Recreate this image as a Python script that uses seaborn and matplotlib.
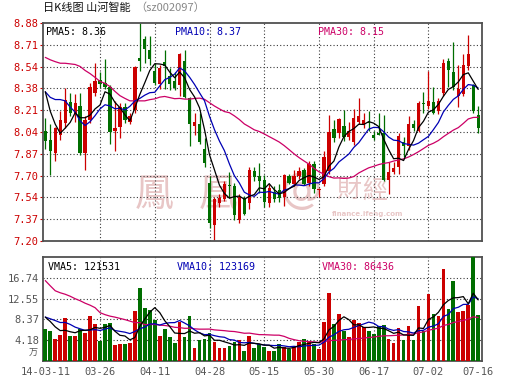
import numpy as np
import pandas as pd
import matplotlib
matplotlib.use("Agg")
import matplotlib.pyplot as plt
import seaborn as sns

# ---------------- data ----------------
title_main = "日K线图 山河智能"
title_code = "（sz002097）"

date_tick_pos = [0, 11, 22, 33, 44, 55, 66, 77, 87]
date_tick_labels = ["14-03-11", "03-26", "04-11", "04-28", "05-15",
                    "05-30", "06-17", "07-02", "07-16"]
grid_pos = [11, 22, 33, 44, 55, 66, 77]

price_ticks = [7.20, 7.368, 7.536, 7.704, 7.872, 8.04, 8.208, 8.376, 8.544, 8.712, 8.88]
price_tick_labels = ["7.20", "7.37", "7.54", "7.70", "7.87", "8.04",
                     "8.21", "8.38", "8.54", "8.71", "8.88"]
vol_ticks = [4.184, 8.368, 12.552, 16.736]
vol_tick_labels = ["4.18", "8.37", "12.55", "16.74"]
vol_unit = "万"

pma_labels = ["PMA5: 8.36", "PMA10: 8.37", "PMA30: 8.15"]
vma_labels = ["VMA5: 121531", "VMA10: 123169", "VMA30: 86436"]
watermark = ["鳳", "凰", "財", "經"]
watermark_url = "finance.ifeng.com"

open_ = [8.05, 7.98, 7.88, 8.02, 8.11, 8.27, 8.18, 8.24, 7.88, 8.13,
         8.34, 8.44, 8.42, 8.39, 8.05, 8.08, 8.23, 8.12, 8.21, 8.61,
         8.76, 8.67, 8.51, 8.41, 8.58, 8.47, 8.43, 8.40, 8.59, 8.30,
         8.09, 8.10, 7.91, 7.65, 7.32, 7.49, 7.52, 7.63, 7.62, 7.36,
         7.53, 7.49, 7.74, 7.70, 7.67, 7.49, 7.58, 7.59, 7.54, 7.70,
         7.64, 7.70, 7.75, 7.65, 7.79, 7.59, 7.64, 7.74, 8.06, 8.03,
         8.09, 8.00, 7.96, 8.12, 8.10, 8.12, 8.02, 8.03, 8.03, 7.67,
         7.73, 7.77, 7.96, 7.93, 8.10, 8.05, 8.265, 8.24, 8.27, 8.20,
         8.34, 8.59, 8.50, 8.32, 8.33, 8.55, 8.40, 8.17]
high = [8.15, 8.10, 8.08, 8.20, 8.38, 8.34, 8.33, 8.34, 8.16, 8.42,
        8.57, 8.50, 8.60, 8.40, 8.28, 8.26, 8.26, 8.19, 8.55, 8.88,
        8.78, 8.78, 8.57, 8.56, 8.67, 8.53, 8.50, 8.65, 8.67, 8.31,
        8.19, 8.19, 7.99, 7.70, 7.54, 7.56, 7.66, 7.73, 7.65, 7.56,
        7.55, 7.77, 7.77, 7.80, 7.71, 7.64, 7.62, 7.64, 7.72, 7.72,
        7.75, 7.77, 7.76, 7.82, 7.82, 7.61, 7.89, 8.17, 8.13, 8.15,
        8.21, 8.12, 8.22, 8.30, 8.19, 8.20, 8.05, 8.19, 8.17, 7.81,
        7.81, 8.03, 8.00, 8.16, 8.13, 8.28, 8.35, 8.51, 8.39, 8.30,
        8.60, 8.61, 8.73, 8.56, 8.64, 8.79, 8.41, 8.24]
low = [7.91, 7.71, 7.82, 7.98, 8.07, 8.16, 8.12, 7.86, 7.75, 8.11,
       8.32, 8.39, 8.37, 7.95, 7.89, 7.99, 8.11, 8.10, 8.19, 8.51,
       8.57, 8.56, 8.40, 8.37, 8.37, 8.36, 8.36, 8.32, 8.30, 7.93,
       8.02, 7.95, 7.77, 7.30, 7.21, 7.46, 7.51, 7.53, 7.36, 7.34,
       7.40, 7.45, 7.66, 7.57, 7.46, 7.46, 7.50, 7.50, 7.47, 7.64,
       7.62, 7.68, 7.63, 7.62, 7.57, 7.54, 7.62, 7.72, 7.96, 7.99,
       7.97, 7.98, 7.94, 8.10, 8.07, 8.05, 7.98, 8.02, 7.66, 7.56,
       7.72, 7.72, 7.85, 7.90, 8.05, 8.04, 8.19, 8.22, 8.18, 8.18,
       8.32, 8.39, 8.36, 8.23, 8.32, 8.52, 8.19, 8.03]
close = [7.97, 7.89, 8.07, 8.13, 8.29, 8.19, 8.26, 7.88, 8.13, 8.39,
         8.43, 8.41, 8.39, 8.04, 8.07, 8.23, 8.13, 8.16, 8.54, 8.59,
         8.68, 8.60, 8.42, 8.53, 8.55, 8.41, 8.38, 8.64, 8.31, 8.10,
         8.12, 7.96, 7.80, 7.34, 7.52, 7.53, 7.64, 7.62, 7.40, 7.54,
         7.41, 7.75, 7.69, 7.66, 7.50, 7.61, 7.52, 7.53, 7.71, 7.65,
         7.70, 7.74, 7.64, 7.79, 7.60, 7.60, 7.85, 8.04, 7.99, 8.14,
         8.00, 8.05, 8.15, 8.16, 8.13, 8.11, 7.99, 8.02, 7.67, 7.73,
         7.76, 8.01, 7.93, 8.10, 8.07, 8.26, 8.255, 8.28, 8.19, 8.28,
         8.57, 8.52, 8.39, 8.37, 8.56, 8.64, 8.20, 8.07]
volume = [6.46, 6.05, 4.42, 5.24, 8.70, 5.03, 5.03, 6.46, 5.71, 9.11,
          7.48, 4.08, 7.48, 7.68, 3.20, 3.40, 3.40, 3.60, 10.0, 14.6,
          10.7, 10.2, 8.16, 5.03, 6.46, 4.83, 3.67, 7.75, 4.90, 8.98,
          2.65, 4.20, 4.50, 5.60, 3.90, 2.65, 2.65, 3.00, 3.90, 4.20,
          2.00, 5.00, 2.65, 3.40, 2.86, 2.00, 2.00, 3.40, 2.86, 2.50,
          2.86, 3.90, 4.50, 4.00, 3.50, 2.45, 7.75, 13.6, 7.50, 9.50,
          6.12, 4.90, 8.30, 7.62, 6.80, 6.12, 5.44, 7.07, 7.28, 4.49,
          3.54, 6.66, 4.22, 7.07, 4.30, 11.0, 6.12, 13.4, 9.52, 8.98,
          18.5, 10.5, 16.0, 9.79, 10.0, 11.2, 21.2, 9.30]

# closes / volumes of the sessions just before the window (estimated from the MA lines)
pre_close = [8.45, 8.50, 8.49, 8.30, 8.33, 8.40, 8.34, 9.05, 9.12, 9.30,
             9.34, 8.85, 8.78, 9.18, 9.22, 8.76, 8.73, 8.54, 8.59, 8.68,
             8.32, 8.24, 8.13, 8.39, 8.67, 8.64, 8.57, 8.48, 8.09]
pre_volume = [37.5, 34.4, 17.2, 17.7, 17.0, 20.0, 18.5, 20.7, 21.1, 22.5,
              34.1, 19.5, 16.7, 9.2, 10.9, 10.9, 12.6, 19.0, 14.6, 22.7,
              9.5, 8.0, 9.2, 8.5, 9.0, 10.5, 9.8, 9.0, 8.4]

# ---------------- styling ----------------
sns.set_style("white")
plt.rcParams["font.family"] = ["DejaVu Sans Mono", "Noto Sans CJK SC"]
CJK = ["Noto Sans CJK SC", "DejaVu Sans"]

RED = "#CC0000"
GREEN = "#006E00"
C_MA5, C_MA10, C_MA30 = "#000000", "#0000B4", "#CC0066"
GRID = dict(color="#3a3a3a", lw=0.8, linestyle=(0, (1, 2)))
SPINE = "#505050"
WM = "#E8C6C6"

n = len(close)
idx = np.arange(n)
o = np.array(open_); c = np.array(close); h = np.array(high); l = np.array(low)
up = c >= o
colors = np.where(up, RED, GREEN)

allc = pd.Series(pre_close + close)
allv = pd.Series(pre_volume + volume)
npre = len(pre_close)
df = pd.DataFrame({
    "i": idx,
    "ma5": allc.rolling(5).mean().iloc[npre:].to_numpy(),
    "ma10": allc.rolling(10).mean().iloc[npre:].to_numpy(),
    "ma30": allc.rolling(30).mean().iloc[npre:].to_numpy(),
    "vma5": allv.rolling(5).mean().iloc[npre:].to_numpy(),
    "vma10": allv.rolling(10).mean().iloc[npre:].to_numpy(),
    "vma30": allv.rolling(30).mean().iloc[npre:].to_numpy(),
    "vol": volume,
    "dir": np.where(up, "up", "down"),
})

W, H = 530, 391
fig = plt.figure(figsize=(W / 100, H / 100), dpi=100)


def rect(left, top, right, bottom):
    return [left / W, 1 - bottom / H, (right - left) / W, (bottom - top) / H]


axp = fig.add_axes(rect(43.3, 23, 481.7, 241))
axv = fig.add_axes(rect(43.3, 257, 481.7, 361))
XL = (-0.4, 87.7)


def pfx(xpx):
    return (xpx - 43.3) / 438.4


def pfy(ypx):
    return (241 - ypx) / 218


# ---------------- price panel ----------------
for y in price_ticks[1:-1]:
    axp.axhline(y, zorder=0.6, **GRID)
for x in grid_pos:
    axp.axvline(x, zorder=0.6, **GRID)

# watermark
for ch, xpx, ypx, fs in [(watermark[0], 154, 195, 28), (watermark[1], 218, 195, 28),
                         (watermark[2], 349, 191, 18), (watermark[3], 375, 191, 18)]:
    axp.text(pfx(xpx), pfy(ypx), ch, transform=axp.transAxes,
             ha="center", va="center", fontsize=fs, color=WM, family=CJK, zorder=0.5)
axp.text(pfx(301), pfy(191), "@", transform=axp.transAxes,
         ha="center", va="center", fontsize=30, color=WM, family=["DejaVu Sans"],
         zorder=0.5)
axp.text(pfx(368), pfy(214), watermark_url, transform=axp.transAxes,
         ha="center", va="center", fontsize=5, color=WM, family=["DejaVu Sans"],
         fontweight="bold", zorder=0.5)

# wicks and bodies
axp.vlines(idx, l, h, colors=colors, lw=0.9, zorder=2)
body_h = np.maximum(np.abs(c - o), 0.008)
body_b = np.minimum(o, c)
axp.bar(idx, body_h, bottom=body_b, width=0.66, color=colors, lw=0, zorder=3)

sns.lineplot(data=df, x="i", y="ma30", color=C_MA30, lw=0.9, ax=axp, zorder=4)
sns.lineplot(data=df, x="i", y="ma10", color=C_MA10, lw=0.9, ax=axp, zorder=4)
sns.lineplot(data=df, x="i", y="ma5", color=C_MA5, lw=0.9, ax=axp, zorder=5)

axp.set_xlim(*XL)
axp.set_ylim(price_ticks[0], price_ticks[-1])
axp.set_yticks(price_ticks)
axp.set_yticklabels(price_tick_labels)
axp.set_xticks([])
axp.tick_params(axis="y", length=2, width=0.8, color=RED, labelcolor=RED,
                labelsize=7.5, pad=1.5, left=True)
axp.set_xlabel(""); axp.set_ylabel("")

for txt, xpx, col in zip(pma_labels, [46.5, 175, 318], [C_MA5, C_MA10, C_MA30]):
    axp.text(pfx(xpx), pfy(32.5), txt, transform=axp.transAxes,
             ha="left", va="center", fontsize=7.2, color=col, zorder=6)

# ---------------- volume panel ----------------
for y in vol_ticks:
    axv.axhline(y, zorder=0.6, **GRID)
for x in grid_pos:
    axv.axvline(x, zorder=0.6, **GRID)

sns.barplot(data=df, x="i", y="vol", hue="dir", palette={"up": RED, "down": GREEN},
            dodge=False, width=0.74, saturation=1, errorbar=None, legend=False,
            linewidth=0, ax=axv, zorder=3)

sns.lineplot(x=idx, y=df["vma30"].to_numpy(), color=C_MA30, lw=0.9, ax=axv, zorder=4)
sns.lineplot(x=idx, y=df["vma10"].to_numpy(), color=C_MA10, lw=0.9, ax=axv, zorder=4)
sns.lineplot(x=idx, y=df["vma5"].to_numpy(), color=C_MA5, lw=0.9, ax=axv, zorder=5)

axv.set_xlim(*XL)
axv.set_ylim(0, 20.92)
axv.set_yticks(vol_ticks)
axv.set_yticklabels(vol_tick_labels)
axv.set_xticks(date_tick_pos)
axv.set_xticklabels(date_tick_labels)
axv.tick_params(axis="y", length=0, labelcolor="#555555", labelsize=7.5, pad=3)
axv.tick_params(axis="x", length=0, labelcolor="#555555", labelsize=7.5, pad=4)
axv.set_xlabel(""); axv.set_ylabel("")
axv.text(-0.012, (361 - 353) / 104, vol_unit, transform=axv.transAxes, ha="right",
         va="center", fontsize=6.5, color="#555555", family=CJK)

for txt, xpx, col in zip(vma_labels, [47.5, 177, 322], [C_MA5, C_MA10, C_MA30]):
    axv.text(pfx(xpx), (361 - 267) / 104, txt, transform=axv.transAxes,
             ha="left", va="center", fontsize=7.2, color=col, zorder=6)

for ax in (axp, axv):
    for s in ax.spines.values():
        s.set_visible(True)
        s.set_color(SPINE)
        s.set_linewidth(1.3)
    ax.set_facecolor("white")

# ---------------- title ----------------
fig.text(43 / W, 1 - 8 / H, title_main, ha="left", va="center", fontsize=8,
         color="#111111", family=CJK)
fig.text(135 / W, 1 - 8 / H, title_code, ha="left", va="center", fontsize=8,
         color="#888888", family=CJK)

fig.savefig("out.png", dpi=100, facecolor="white")
